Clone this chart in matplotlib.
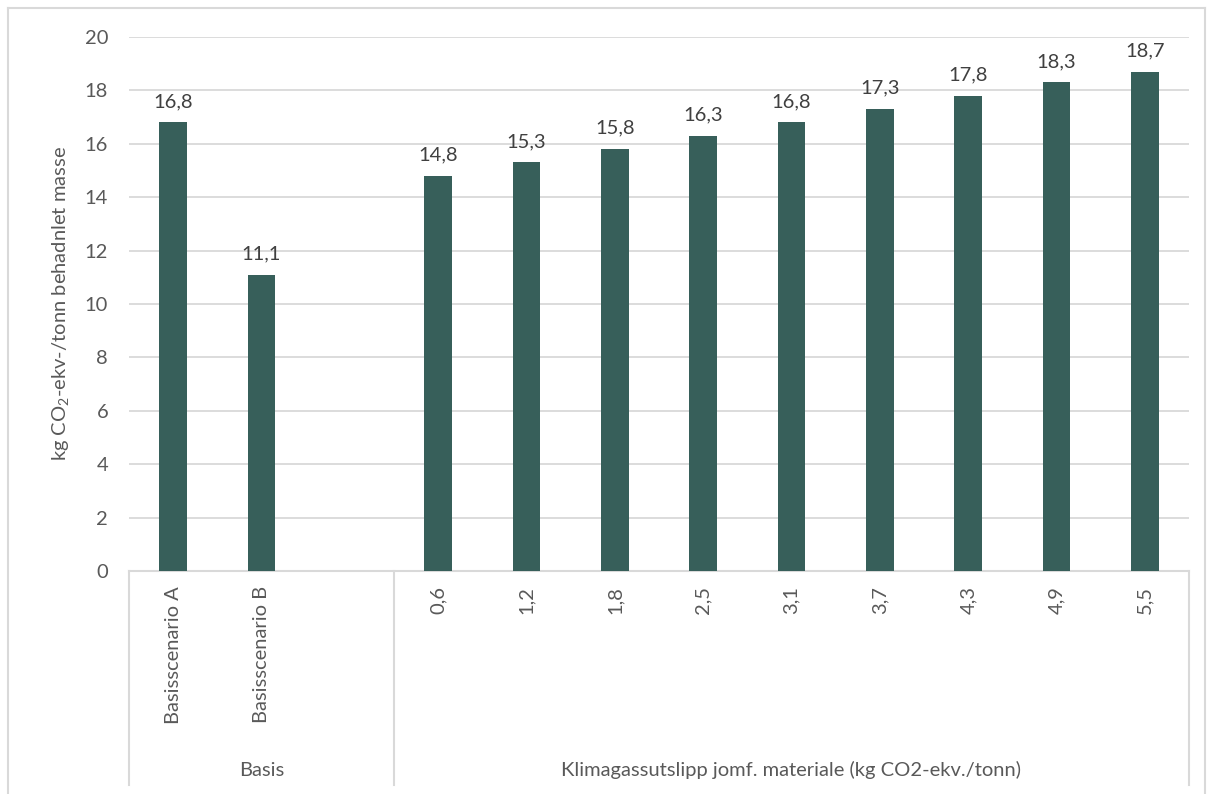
#
# klimagassutslipp per tonn behandlet masse - stolpediagram
#

import matplotlib
matplotlib.use('Agg')
import matplotlib.pyplot as plt
import matplotlib.transforms as mtransforms
from matplotlib.lines import Line2D

plt.rcParams['font.family'] = ['Lato', 'DejaVu Sans']
plt.rcParams['mathtext.fontset'] = 'custom'
plt.rcParams['mathtext.rm'] = 'Lato'
plt.rcParams['mathtext.it'] = 'Lato:italic'

# data
basis_labels = ['Basisscenario A', 'Basisscenario B']
basis_values = [16.8, 11.1]
klima_labels = ['0,6', '1,2', '1,8', '2,5', '3,1', '3,7', '4,3', '4,9', '5,5']
klima_values = [14.8, 15.3, 15.8, 16.3, 16.8, 17.3, 17.8, 18.3, 18.7]
group_names = ['Basis', 'Klimagassutslipp jomf. materiale (kg CO2-ekv./tonn)']
y_ticks = [0, 2, 4, 6, 8, 10, 12, 14, 16, 18, 20]

BAR_COLOR = '#375F5A'
GRID_COLOR = '#D9D9D9'
TICK_COLOR = '#595959'
LABEL_COLOR = '#404040'
FS = 14.5

# basis group gets one empty slot after its bars
basis_x = list(range(len(basis_labels)))
gap = 1
klima_start = len(basis_labels) + gap
klima_x = [klima_start + i for i in range(len(klima_labels))]
x_all = basis_x + klima_x
labels_all = basis_labels + klima_labels
values_all = basis_values + klima_values

fig = plt.figure(figsize=(12.14, 7.94), dpi=100)
ax = fig.add_axes([129 / 1214, 1 - 571 / 794, 1060 / 1214, 534 / 794])

bars = ax.bar(x_all, values_all, width=0.31, color=BAR_COLOR, zorder=3)

for x, v in zip(x_all, values_all):
    ax.annotate(f'{v:.1f}'.replace('.', ','), (x, v), xytext=(0, 11),
                textcoords='offset points', ha='center', va='baseline',
                fontsize=FS, color=LABEL_COLOR)

ax.set_xlim(-0.5, x_all[-1] + 0.5)
ax.set_ylim(0, 20)
ax.set_yticks(y_ticks)
ax.set_yticklabels([str(t) for t in y_ticks])
ax.yaxis.grid(True, color=GRID_COLOR, linewidth=1.3, zorder=0)
ax.tick_params(axis='y', length=0, pad=15, labelsize=FS, labelcolor=TICK_COLOR)

ax.set_xticks(x_all)
ax.set_xticklabels(labels_all, rotation=90, va='top', ha='center')
ax.tick_params(axis='x', length=0, pad=11, labelsize=FS, labelcolor=TICK_COLOR)

for s in ['left', 'right', 'top']:
    ax.spines[s].set_visible(False)
ax.spines['bottom'].set_color(GRID_COLOR)
ax.spines['bottom'].set_linewidth(1.5)

ax.set_ylabel('kg CO$_2$-ekv-/tonn behadnlet masse', fontsize=FS, color=TICK_COLOR, labelpad=10)

# multi-level category axis: dividers and group names
trans = mtransforms.blended_transform_factory(ax.transData, ax.transAxes)
bounds = [-0.5, klima_start - 0.5, x_all[-1] + 0.5]
for b in bounds:
    ax.add_line(Line2D([b, b], [0, -0.40], transform=trans, color=GRID_COLOR,
                       linewidth=1.5, clip_on=False))
for i, name in enumerate(group_names):
    ax.text((bounds[i] + bounds[i + 1]) / 2, -0.373, name, transform=trans,
            ha='center', va='center', fontsize=FS, color=TICK_COLOR)

# outer chart frame (bottom edge is cut off in the original)
fx0, fx1, fy1 = 8 / 1214, 1205 / 1214, 1 - 8 / 794
for xs, ys in [([fx0, fx0], [0, fy1]), ([fx0, fx1], [fy1, fy1]), ([fx1, fx1], [fy1, 0])]:
    fig.add_artist(Line2D(xs, ys, transform=fig.transFigure, color=GRID_COLOR, linewidth=1.5))

fig.savefig('out.png', dpi=100)
